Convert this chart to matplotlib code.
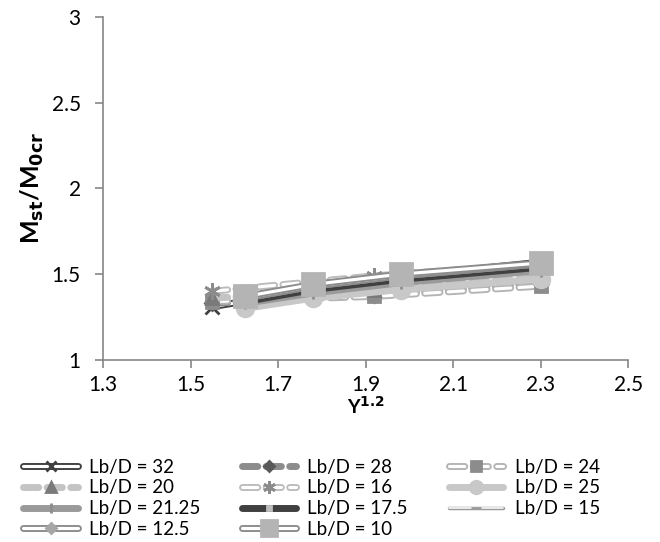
import matplotlib
matplotlib.use("Agg")
import matplotlib.pyplot as plt
from matplotlib.lines import Line2D
from matplotlib.legend_handler import HandlerTuple

plt.rcParams['font.family'] = ['Lato', 'DejaVu Sans']

# gamma^1.2 values
x_a = [1.55, 1.92, 2.3]
x_b = [1.625, 1.78, 1.98, 2.3]

labels = ['Lb/D = 32', 'Lb/D = 28', 'Lb/D = 24', 'Lb/D = 20', 'Lb/D = 16',
          'Lb/D = 25', 'Lb/D = 21.25', 'Lb/D = 17.5', 'Lb/D = 15',
          'Lb/D = 12.5', 'Lb/D = 10']
y_32 = [1.31, 1.47, 1.57]
y_28 = [1.33, 1.38, 1.45]
y_24 = [1.34, 1.37, 1.43]
y_20 = [1.36, 1.41, 1.48]
y_16 = [1.40, 1.49, 1.56]
y_25 = [1.30, 1.36, 1.41, 1.47]
y_2125 = [1.33, 1.39, 1.45, 1.52]
y_175 = [1.34, 1.41, 1.47, 1.54]
y_15 = [1.35, 1.42, 1.48, 1.55]
y_125 = [1.36, 1.43, 1.49, 1.56]
y_10 = [1.37, 1.44, 1.50, 1.565]

# style: (x, y, line color, lw, dashes, double, marker, marker color, marker size)
styles = [
    (x_a, y_32, '#404040', 5, None, True, 'x', '#404040', 10),
    (x_a, y_28, '#8c8c8c', 5, (2.2, 1.2), False, 'D', '#595959', 7),
    (x_a, y_24, '#b4b4b4', 5, (2.2, 1.2), True, 's', '#8c8c8c', 9),
    (x_a, y_20, '#c4c4c4', 5, (2.2, 1.2), False, '^', '#7a7a7a', 9),
    (x_a, y_16, '#bcbcbc', 5, (2.2, 1.2), True, (6, 2, 0), '#8c8c8c', 12),
    (x_b, y_25, '#c8c8c8', 5, None, False, 'o', '#c8c8c8', 12),
    (x_b, y_2125, '#9a9a9a', 5, None, False, '|', '#8c8c8c', 9),
    (x_b, y_175, '#404040', 5, None, False, 's', '#bfbfbf', 4),
    (x_b, y_15, '#9a9a9a', 2.5, None, True, '_', '#9a9a9a', 10),
    (x_b, y_125, '#8c8c8c', 5, None, True, 'D', '#a6a6a6', 7),
    (x_b, y_10, '#8c8c8c', 5, None, True, 's', '#b4b4b4', 16),
]

fig = plt.figure(figsize=(6.6, 5.42), dpi=100)
ax = fig.add_axes([0.156, 0.336, 0.796, 0.633])

handles = []
for (x, y, c, lw, dash, double, m, mc, ms) in styles:
    kw = dict(solid_capstyle='round', dash_capstyle='round')
    outer = Line2D([], [], color=c, lw=lw, **kw)
    ax.plot(x, y, color=c, lw=lw, **kw)[0]
    if dash:
        ax.lines[-1].set_dashes(dash)
        outer.set_dashes(dash)
    parts = [outer]
    if double:
        inner_lw = lw * 0.45
        ln = ax.plot(x, y, color='white', lw=inner_lw, **kw)[0]
        inner = Line2D([], [], color='white', lw=inner_lw, **kw)
        if dash:
            ln.set_dashes((dash[0] * lw / inner_lw, dash[1] * lw / inner_lw))
            inner.set_dashes((dash[0] * lw / inner_lw, dash[1] * lw / inner_lw))
        parts.append(inner)
    ax.plot(x, y, ls='none', marker=m, ms=ms, color=mc, mec=mc, mew=2)
    mk = Line2D([], [], ls='none', marker=m, ms=ms * 0.75, color=mc, mec=mc, mew=2)
    parts.append(mk)
    handles.append(tuple(parts))

ax.set_xlim(1.3, 2.5)
ax.set_ylim(1, 3)
ax.set_xticks([1.3, 1.5, 1.7, 1.9, 2.1, 2.3, 2.5])
ax.set_yticks([1, 1.5, 2, 2.5, 3])
ax.set_yticklabels(['1', '1.5', '2', '2.5', '3'])
for s in ['top', 'right']:
    ax.spines[s].set_visible(False)
for s in ['left', 'bottom']:
    ax.spines[s].set_color('#868686')
    ax.spines[s].set_linewidth(1.2)
ax.tick_params(colors='#868686', labelcolor='black', labelsize=15,
               direction='out', length=6, width=1.2)
ax.tick_params(axis='y', pad=10)
ax.tick_params(axis='x', pad=5)
ax.set_xlabel('Υ$^{\\mathbf{1.2}}$', fontsize=14, fontweight='bold', labelpad=0)
ax.set_ylabel('M$_{\\mathbf{st}}$/M$_{\\mathbf{0cr}}$', fontsize=18,
              fontweight='bold', labelpad=4)

order = [0, 3, 6, 9, 1, 4, 7, 10, 2, 5, 8]
fig.legend([handles[i] for i in order], [labels[i] for i in order],
           handler_map={tuple: HandlerTuple(ndivide=1, pad=0)},
           loc='upper left', bbox_to_anchor=(0.01, 0.185), ncol=3,
           frameon=False, fontsize=13.5, handlelength=2.9,
           columnspacing=2.2, handletextpad=0.6, labelspacing=0.2)

fig.savefig('out.png', dpi=100)
